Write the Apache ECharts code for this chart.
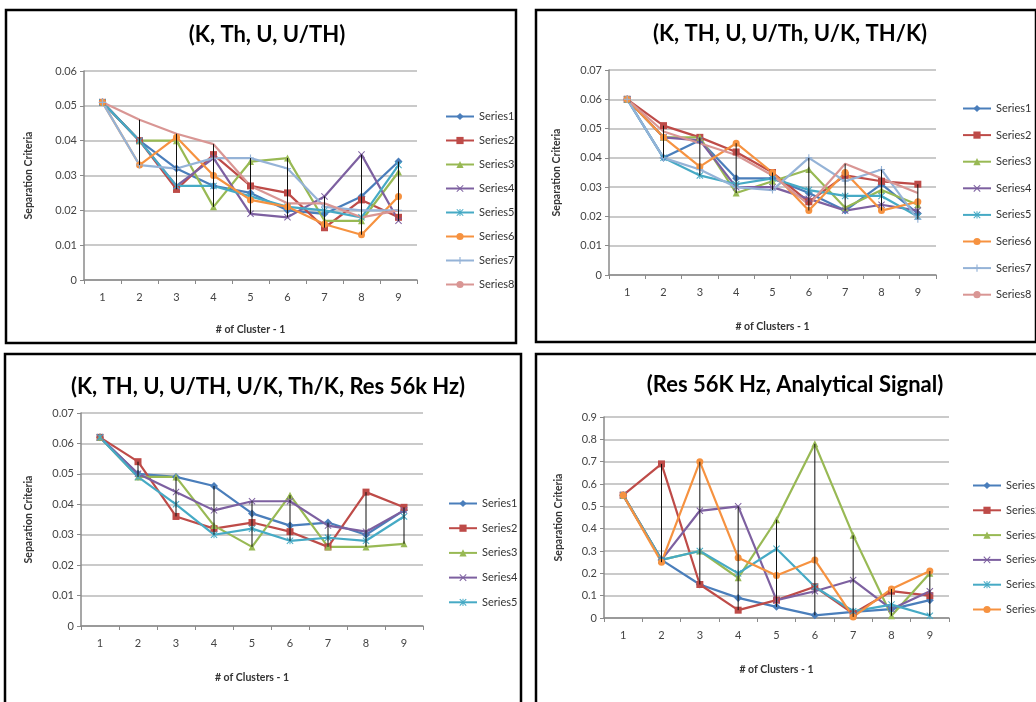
<!DOCTYPE html>
<html>
<head>
<meta charset="utf-8">
<script src="https://cdn.jsdelivr.net/npm/echarts@6/dist/echarts.min.js"></script>
<style>
html,body{margin:0;padding:0;background:#fff;}
#chart{width:1036px;height:702px;}
</style>
</head>
<body>
<div id="chart"></div>
<script>
// ---------- DATA ----------
const categories = ['1', '2', '3', '4', '5', '6', '7', '8', '9'];
const panelTitles = ['(K, Th, U, U/TH)', '(K, TH, U, U/Th, U/K, TH/K)', '(K, TH, U, U/TH, U/K, Th/K, Res 56k Hz)', '(Res 56K Hz, Analytical Signal)'];
const xAxisNames = ['# of Cluster - 1', '# of Clusters - 1', '# of Clusters - 1', '# of Clusters - 1'];
const yAxisName = 'Separation Criteria';
const seriesNames = ['Series1', 'Series2', 'Series3', 'Series4', 'Series5', 'Series6', 'Series7', 'Series8'];

// Panel 1: (K, Th, U, U/TH)
const p1S1 = [0.051, 0.040, 0.032, 0.027, 0.025, 0.020, 0.019, 0.024, 0.034];
const p1S2 = [0.051, 0.040, 0.026, 0.036, 0.027, 0.025, 0.015, 0.023, 0.018];
const p1S3 = [0.051, 0.040, 0.040, 0.021, 0.034, 0.035, 0.017, 0.017, 0.031];
const p1S4 = [0.051, 0.040, 0.027, 0.035, 0.019, 0.018, 0.024, 0.036, 0.017];
const p1S5 = [0.051, 0.040, 0.027, 0.027, 0.024, 0.021, 0.020, 0.018, 0.033];
const p1S6 = [0.051, 0.033, 0.041, 0.030, 0.023, 0.021, 0.016, 0.013, 0.024];
const p1S7 = [0.051, 0.033, 0.032, 0.035, 0.035, 0.032, 0.021, 0.020, 0.020];
const p1S8 = [0.051, 0.046, 0.042, 0.039, 0.027, 0.022, 0.022, 0.018, 0.020];

// Panel 2: (K, TH, U, U/Th, U/K, TH/K)
const p2S1 = [0.060, 0.040, 0.046, 0.033, 0.033, 0.028, 0.022, 0.031, 0.021];
const p2S2 = [0.060, 0.051, 0.047, 0.042, 0.035, 0.025, 0.034, 0.032, 0.031];
const p2S3 = [0.060, 0.047, 0.047, 0.028, 0.032, 0.036, 0.023, 0.029, 0.024];
const p2S4 = [0.060, 0.047, 0.046, 0.030, 0.030, 0.026, 0.022, 0.024, 0.022];
const p2S5 = [0.060, 0.040, 0.034, 0.031, 0.033, 0.029, 0.027, 0.027, 0.020];
const p2S6 = [0.060, 0.047, 0.037, 0.045, 0.035, 0.022, 0.035, 0.022, 0.025];
const p2S7 = [0.060, 0.040, 0.036, 0.030, 0.029, 0.040, 0.032, 0.036, 0.019];
const p2S8 = [0.060, 0.049, 0.045, 0.041, 0.034, 0.024, 0.038, 0.033, 0.028];

// Panel 3: (K, TH, U, U/TH, U/K, Th/K, Res 56k Hz)
const p3S1 = [0.062, 0.050, 0.049, 0.046, 0.037, 0.033, 0.034, 0.030, 0.038];
const p3S2 = [0.062, 0.054, 0.036, 0.032, 0.034, 0.031, 0.026, 0.044, 0.039];
const p3S3 = [0.062, 0.049, 0.049, 0.033, 0.026, 0.043, 0.026, 0.026, 0.027];
const p3S4 = [0.062, 0.050, 0.044, 0.038, 0.041, 0.041, 0.033, 0.031, 0.038];
const p3S5 = [0.062, 0.049, 0.040, 0.030, 0.032, 0.028, 0.029, 0.028, 0.036];

// Panel 4: (Res 56K Hz, Analytical Signal)
const p4S1 = [0.55, 0.26, 0.15, 0.09, 0.05, 0.012, 0.027, 0.04, 0.08];
const p4S2 = [0.55, 0.69, 0.15, 0.035, 0.08, 0.14, 0.02, 0.12, 0.10];
const p4S3 = [0.55, 0.26, 0.30, 0.18, 0.44, 0.78, 0.37, 0.01, 0.20];
const p4S4 = [0.55, 0.26, 0.48, 0.50, 0.08, 0.12, 0.17, 0.04, 0.12];
const p4S5 = [0.55, 0.26, 0.30, 0.20, 0.31, 0.14, 0.03, 0.06, 0.01];
const p4S6 = [0.55, 0.25, 0.70, 0.27, 0.19, 0.26, 0.005, 0.13, 0.21];

const panelData = [
  [p1S1, p1S2, p1S3, p1S4, p1S5, p1S6, p1S7, p1S8],
  [p2S1, p2S2, p2S3, p2S4, p2S5, p2S6, p2S7, p2S8],
  [p3S1, p3S2, p3S3, p3S4, p3S5],
  [p4S1, p4S2, p4S3, p4S4, p4S5, p4S6]
];
const yMax = [0.06, 0.07, 0.07, 0.9];
const yInterval = [0.01, 0.01, 0.01, 0.1];

// ---------- STYLE ----------
const X_PATH = 'path://M1,0 L5,4 L9,0 L10,1 L6,5 L10,9 L9,10 L5,6 L1,10 L0,9 L4,5 L0,1 Z';
const STAR_PATH = 'path://M1,0 L5,4 L9,0 L10,1 L6,5 L10,9 L9,10 L5,6 L1,10 L0,9 L4,5 L0,1 Z M4.3,0 L5.7,0 L5.7,10 L4.3,10 Z';
const PLUS_PATH = 'path://M4.2,0 L5.8,0 L5.8,4.2 L10,4.2 L10,5.8 L5.8,5.8 L5.8,10 L4.2,10 L4.2,5.8 L0,5.8 L0,4.2 L4.2,4.2 Z';
const styles = [
  { color: '#4A7EBB', symbol: 'diamond', size: 8 },
  { color: '#BE4B48', symbol: 'rect', size: 7 },
  { color: '#98B954', symbol: 'triangle', size: 7 },
  { color: '#7D60A0', symbol: X_PATH, size: 7 },
  { color: '#46AAC5', symbol: STAR_PATH, size: 7 },
  { color: '#F69240', symbol: 'circle', size: 7 },
  { color: '#95B3D7', symbol: PLUS_PATH, size: 7 },
  { color: '#D99694', symbol: 'none', size: 0 }
];

// geometry
const grids = [
  { left: 84, top: 71, width: 333, height: 209 },
  { left: 609, top: 70, width: 327, height: 205 },
  { left: 81, top: 413, width: 342, height: 213 },
  { left: 604, top: 417, width: 345, height: 201 }
];
const titlePos = [[262, 19], [785, 18], [263, 371], [790, 369]];
const legendPos = [[440, 106, 13], [957, 98, 15.6], [443, 493, 13.7], [967, 475, 13.8]];
const yNameGap = [50, 47, 47, 40];
const xNameGap = [44, 46, 46, 46];
const frames = [
  [6, 10, 510, 333], [536, 10, 500, 332], [5, 354, 516, 350], [536, 354, 502, 350]
];

const FONT = 'Lato, "Open Sans", sans-serif';

const option = {
  animation: false,
  backgroundColor: '#fff',
  title: [], legend: [], grid: [], xAxis: [], yAxis: [], series: [],
  graphic: frames.map(f => ({
    type: 'rect', shape: { x: f[0], y: f[1], width: f[2], height: f[3] },
    style: { fill: 'none', stroke: '#000', lineWidth: 2.5 }, z: 100, silent: true
  }))
};

panelData.forEach((seriesList, g) => {
  option.title.push({
    text: panelTitles[g], left: titlePos[g][0], top: titlePos[g][1], textAlign: 'center',
    textStyle: { fontFamily: FONT, fontWeight: 'bold', fontSize: 22, color: '#000' }
  });
  option.grid.push(Object.assign({ containLabel: false }, grids[g]));
  option.xAxis.push({
    type: 'category', gridIndex: g, data: categories, boundaryGap: true,
    name: xAxisNames[g], nameLocation: 'middle', nameGap: xNameGap[g],
    nameTextStyle: { fontFamily: FONT, fontWeight: 'bold', fontSize: 10.5, color: '#333' },
    axisLine: { lineStyle: { color: '#8a8a8a', width: 1.5 } },
    axisTick: { show: true, length: 4, lineStyle: { color: '#8a8a8a' } },
    axisLabel: { fontFamily: FONT, fontSize: 11, color: '#444', margin: 12 },
    splitLine: { show: false }
  });
  option.yAxis.push({
    type: 'value', gridIndex: g, min: 0, max: yMax[g], interval: yInterval[g],
    name: yAxisName, nameLocation: 'middle', nameGap: yNameGap[g], nameRotate: 90,
    nameTextStyle: { fontFamily: FONT, fontWeight: 'bold', fontSize: 10.5, color: '#333' },
    axisLine: { show: true, lineStyle: { color: '#8a8a8a', width: 1.5 } },
    axisTick: { show: true, length: 4, lineStyle: { color: '#8a8a8a' } },
    axisLabel: { fontFamily: FONT, fontSize: 11, color: '#444', margin: 7 },
    splitLine: { show: true, lineStyle: { color: '#b8b8b8', width: 1.5 } }
  });
  const names = [];
  seriesList.forEach((arr, i) => {
    const st = styles[i];
    names.push(seriesNames[i]);
    option.series.push({
      type: 'line', name: seriesNames[i], xAxisIndex: g, yAxisIndex: g,
      data: arr, symbol: st.symbol, symbolSize: st.size, showSymbol: st.symbol !== 'none',
      lineStyle: { color: st.color, width: 2.2 },
      itemStyle: { color: st.color },
      emphasis: { disabled: true }, z: 3
    });
  });
  // high-low lines (from max to min of each category)
  const hl = categories.map((c, k) => {
    const vals = seriesList.map(a => a[k]);
    return [k, Math.min.apply(null, vals), Math.max.apply(null, vals)];
  });
  option.series.push({
    type: 'custom', name: 'hl' + g, xAxisIndex: g, yAxisIndex: g, data: hl, z: 4, silent: true,
    encode: { x: 0, y: [1, 2] },
    renderItem: (params, api) => {
      const p1 = api.coord([api.value(0), api.value(1)]);
      const p2 = api.coord([api.value(0), api.value(2)]);
      return { type: 'line', shape: { x1: p1[0], y1: p1[1], x2: p2[0], y2: p2[1] },
        style: { stroke: '#111', lineWidth: 1 } };
    }
  });
  option.legend.push({
    orient: 'vertical', left: legendPos[g][0], top: legendPos[g][1], itemGap: legendPos[g][2],
    itemWidth: 28, itemHeight: 9, data: names, selectedMode: false,
    textStyle: { fontFamily: FONT, fontSize: 11, color: '#333' }
  });
});

const chart = echarts.init(document.getElementById('chart'), null, { renderer: 'canvas' });
chart.setOption(option);
</script>
</body>
</html>
